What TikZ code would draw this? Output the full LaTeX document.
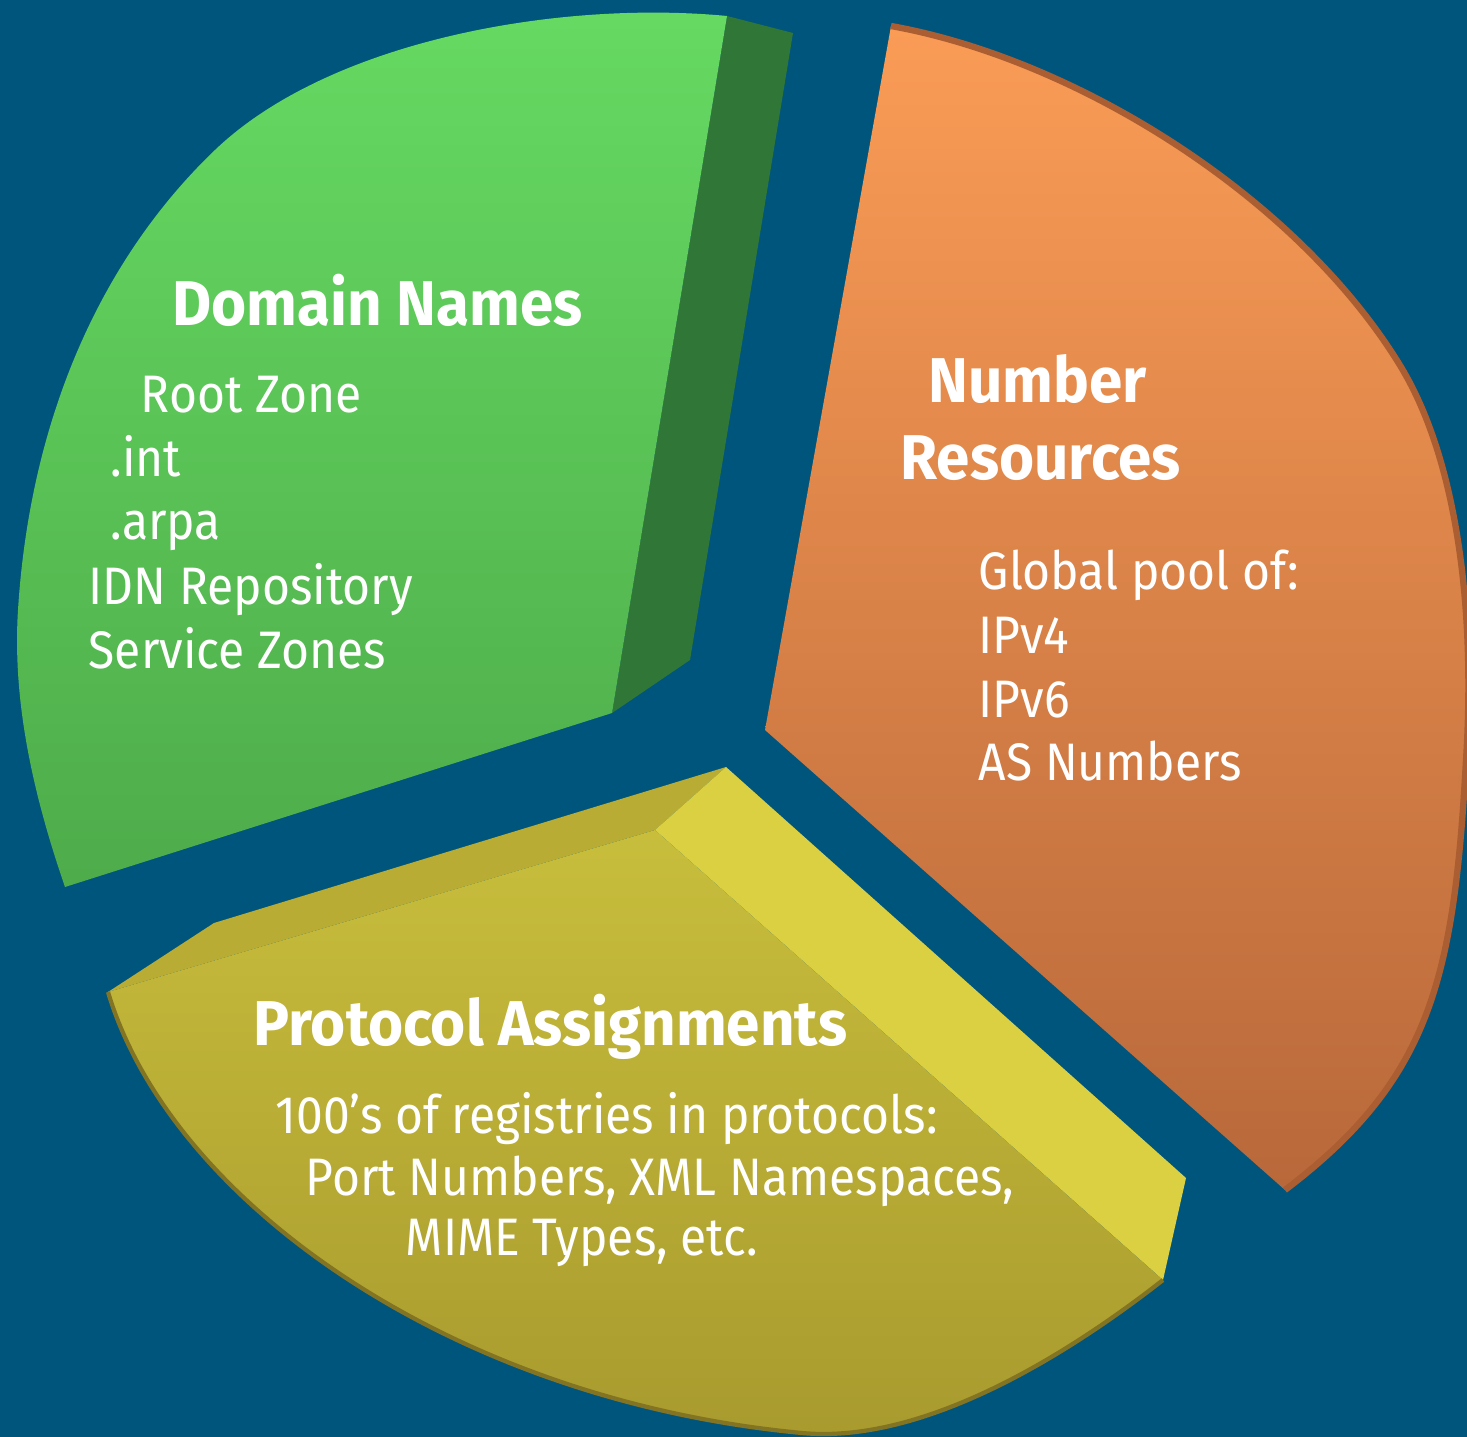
\documentclass[tikz,border=0pt]{standalone}
\usepackage{fontspec}
\setmainfont{Fira Sans}[FakeStretch=0.91]
\newfontfamily\fuentetitulo{Fira Sans}[FakeStretch=0.95]
\definecolor{fondo}{RGB}{0,85,125}
\definecolor{verdeA}{RGB}{102,218,98}
\definecolor{verdeB}{RGB}{78,172,74}
\definecolor{verdeLado}{RGB}{48,118,54}
\definecolor{naranjaA}{RGB}{250,156,86}
\definecolor{naranjaB}{RGB}{184,104,58}
\definecolor{naranjaBorde}{RGB}{170,94,50}
\definecolor{amarilloA}{RGB}{200,190,60}
\definecolor{amarilloB}{RGB}{168,154,46}
\definecolor{amarilloLado}{RGB}{218,208,66}
\definecolor{amarilloTira}{RGB}{184,172,52}
\definecolor{amarilloBorde}{RGB}{130,116,34}
\begin{document}
\begin{tikzpicture}[x=0.01cm,y=-0.01cm,
	titulo/.style={anchor=base west,inner sep=0pt,text=white,font=\fuentetitulo\fontsize{18}{20}\selectfont\bfseries},
	texto/.style={anchor=base west,inner sep=0pt,text=white,font=\fontsize{15}{18}\selectfont}]

		%Fondo azul
		\useasboundingbox (0,0) rectangle (1467,1437);
		\clip (0,0) rectangle (1467,1437);
		\fill[fondo] (0,0) rectangle (1467,1437);

		%Rebanada verde: cara lateral
		\fill[verdeLado] (727,16) -- (793,33) -- (690,660) -- (612,713) -- cycle;
		%Rebanada verde: cara frontal
		\shade[top color=verdeA, bottom color=verdeB]
		(612,713) -- (727,16)
		.. controls (560,0) and (330,40) .. (215,150)
		.. controls (100,260) and (30,420) .. (18,610)
		.. controls (12,705) and (35,800) .. (65,887) -- cycle;

		%Rebanada naranja
		\shade[top color=naranjaA, bottom color=naranjaB]
		(765,730) -- (891,26)
		.. controls (1080,60) and (1300,200) .. (1401,367)
		.. controls (1460,465) and (1475,620) .. (1466,760)
		.. controls (1454,980) and (1430,1080) .. (1285,1190) -- cycle;
		%Borde oscuro del arco naranja
		\draw[naranjaBorde, line width=1.8pt]
		(891,26) .. controls (1080,60) and (1300,200) .. (1401,367)
		.. controls (1460,465) and (1475,620) .. (1466,760)
		.. controls (1454,980) and (1430,1080) .. (1285,1190);

		%Rebanada amarilla: tira izquierda
		\fill[amarilloTira] (108,992) -- (214,923) -- (726,767) -- (655,830) -- cycle;
		%Rebanada amarilla: cara lateral clara
		\fill[amarilloLado] (655,830) -- (726,767) -- (1186,1178) -- (1163,1280) -- cycle;
		%Rebanada amarilla: cara frontal
		\shade[top color=amarilloA, bottom color=amarilloB]
		(655,830) -- (108,992)
		.. controls (170,1200) and (450,1400) .. (802,1433)
		.. controls (930,1445) and (1080,1345) .. (1163,1280) -- cycle;
		%Borde oscuro del arco amarillo
		\draw[amarilloBorde, line width=1.2pt]
		(108,992) .. controls (170,1200) and (450,1400) .. (802,1433)
		.. controls (930,1445) and (1080,1345) .. (1163,1280);

		%Textos de la rebanada verde
		\node[titulo] (1) at (172,326) {Domain Names};
		\node[texto] (2) at (140,413) {Root Zone};
		\node[texto] (3) at (110,477) {.int};
		\node[texto] (4) at (110,540) {.arpa};
		\node[texto] (5) at (88,605) {IDN Repository};
		\node[texto] (6) at (88,668) {Service Zones};

		%Textos de la rebanada naranja
		\node[titulo] (7) at (928,403) {Number};
		\node[titulo] (8) at (900,480) {Resources};
		\node[texto] (9) at (978,590) {Global pool of:};
		\node[texto] (10) at (978,653) {IPv4};
		\node[texto] (11) at (978,717) {IPv6};
		\node[texto] (12) at (978,780) {AS Numbers};

		%Textos de la rebanada amarilla
		\node[titulo] (13) at (253,1045) {Protocol Assignments};
		\node[texto] (14) at (275,1133) {100’s of registries in protocols:};
		\node[texto] (15) at (305,1195) {Port Numbers, XML Namespaces,};
		\node[texto] (16) at (405,1255) {MIME Types, etc.};

\end{tikzpicture}
\end{document}
